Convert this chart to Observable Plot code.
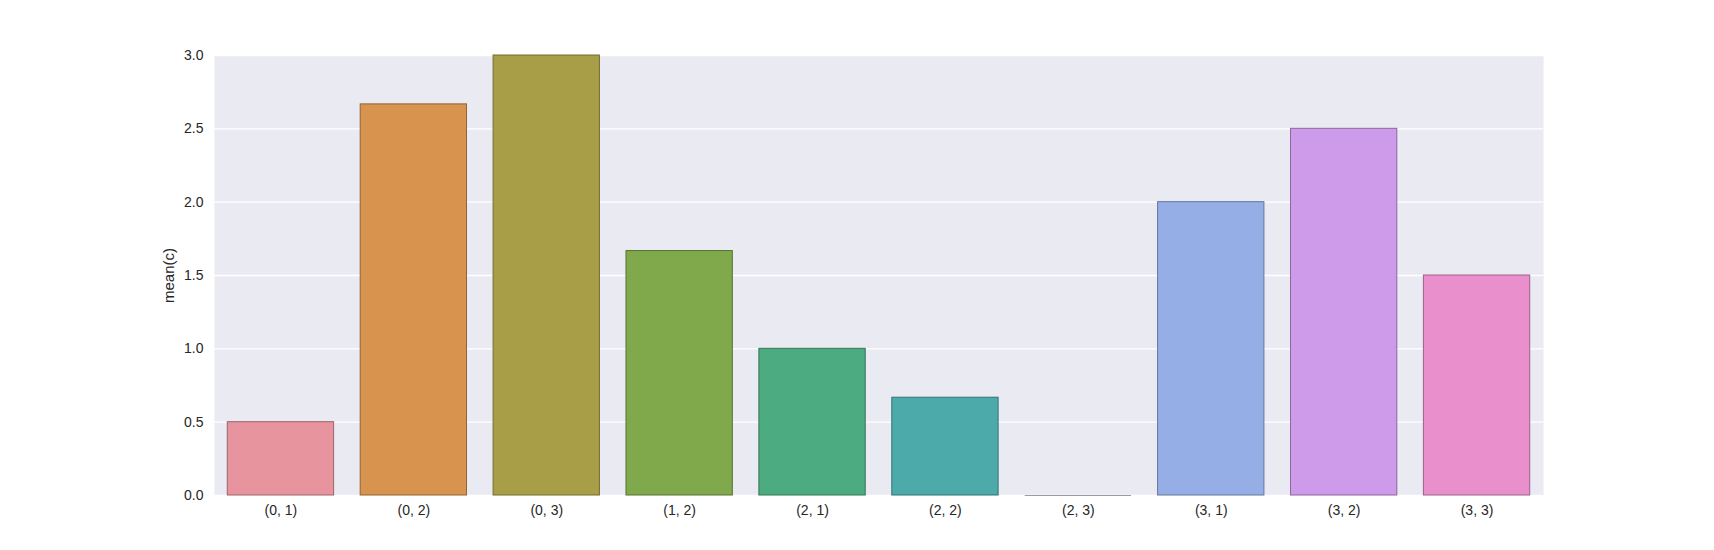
<!DOCTYPE html>
<html>
<head>
<meta charset="utf-8">
<script src="https://cdn.jsdelivr.net/npm/d3@7"></script>
<script src="https://cdn.jsdelivr.net/npm/@observablehq/plot@0.6"></script>
<style>
  html, body { margin: 0; padding: 0; background: #fff; }
  #chart svg { display: block; }
</style>
</head>
<body>
<div id="chart"></div>
<script>
const categories = ["(0, 1)", "(0, 2)", "(0, 3)", "(1, 2)", "(2, 1)", "(2, 2)", "(2, 3)", "(3, 1)", "(3, 2)", "(3, 3)"];
const values = [0.5, 2.6667, 3.0, 1.6667, 1.0, 0.6667, 0.0, 2.0, 2.5, 1.5];
const colors = ["#e8949f", "#d8934e", "#a99e48", "#80a94b", "#4cab80", "#4caaaa", "#50a5bd", "#96aee6", "#ce9aea", "#e98fcb"];
const yTicks = [0, 0.5, 1.0, 1.5, 2.0, 2.5, 3.0];

const data = categories.map((c, i) => ({cat: c, value: values[i], color: colors[i]}));
const edge = c => d3.color(c).darker(1.1).formatHex();

const chart = Plot.plot({
  width: 1714,
  height: 550,
  marginLeft: 214,
  marginRight: 171,
  marginTop: 55,
  marginBottom: 55,
  style: {fontFamily: "'Liberation Sans', Arial, sans-serif", fontSize: "14px", color: "#262626", background: "#fff"},
  x: {domain: categories, paddingInner: 0.2, paddingOuter: 0.1, round: false, label: null},
  y: {domain: [0, 3], label: null},
  marks: [
    Plot.frame({fill: "#eaeaf2", stroke: null}),
    Plot.gridY(yTicks, {stroke: "#fff", strokeOpacity: 1, strokeWidth: 1.3}),
    Plot.barY(data, {
      x: "cat", y: "value",
      fill: d => d.color,
      stroke: d => edge(d.color),
      strokeWidth: 1
    }),
    Plot.tickY(data.filter(d => d.value === 0), {x: "cat", y: "value", stroke: "#9a9aa8", strokeWidth: 1.2}),
    Plot.axisY(yTicks, {tickSize: 0, tickPadding: 11, tickFormat: d3.format(".1f"), label: null, fontSize: 14}),
    Plot.axisX({tickSize: 0, tickPadding: 10, label: null, fontSize: 14}),
    Plot.text(["mean(c)"], {frameAnchor: "left", textAnchor: "middle", dx: -45, rotate: -90, fontSize: 15, fill: "#262626"})
  ]
});
document.getElementById("chart").appendChild(chart);
</script>
</body>
</html>
